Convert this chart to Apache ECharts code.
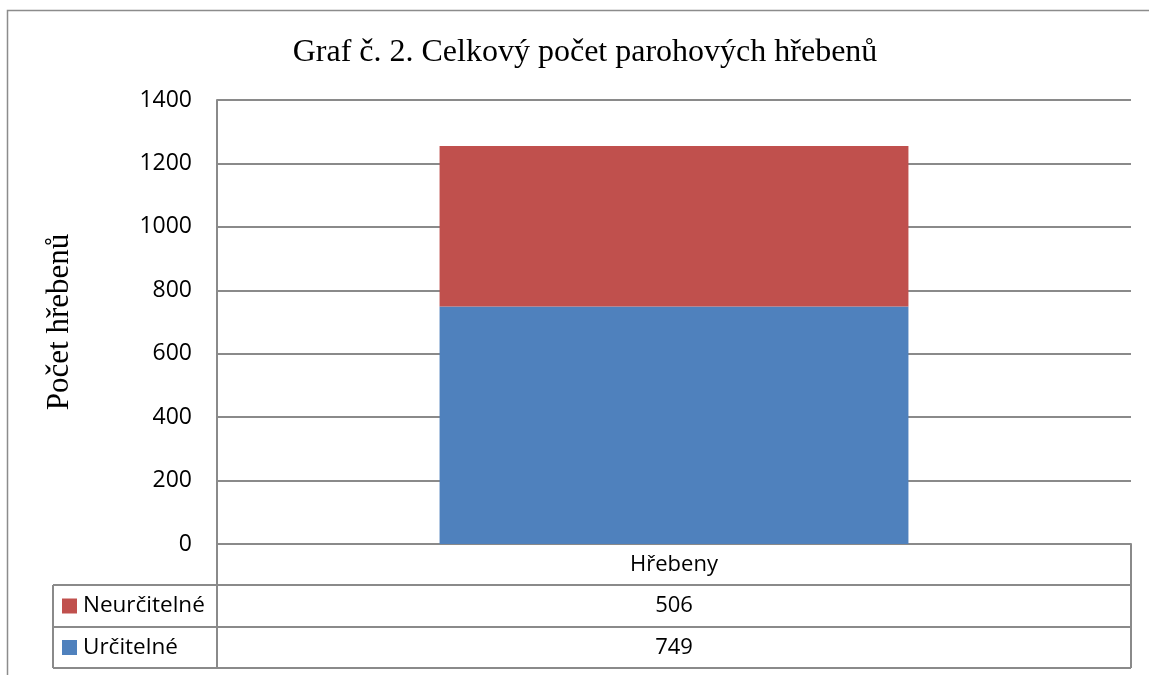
<!DOCTYPE html>
<html>
<head>
<meta charset="utf-8">
<title>Graf č. 2</title>
<script src="https://cdn.jsdelivr.net/npm/echarts@6/dist/echarts.min.js"></script>
<style>
  html, body { margin: 0; padding: 0; background: #fff; }
  #chart { width: 1149px; height: 675px; }
</style>
</head>
<body>
<div id="chart"></div>
<script>
// data
const categories = ['Hřebeny']
const urcitelne = [749]
const neurcitelne = [506]
const seriesNames = ['Určitelné', 'Neurčitelné']
const seriesColors = ['#4F81BD', '#C0504D']

const titleText = 'Graf č. 2. Celkový počet parohových hřebenů'
const yName = 'Počet hřebenů'

// layout
const plot = { left: 217, right: 1131, top: 100, bottom: 544 }
const table = { left: 53, row1: 585, row2: 627, row3: 668 }
const lineColor = '#8a8a8a'
const serif = '"Liberation Serif", "Times New Roman", serif'
const sans = '"Open Sans", "Liberation Sans", sans-serif'

const chart = echarts.init(document.getElementById('chart'))

// data table (rows in reference order: top red, bottom blue)
const tableRows = [
  { name: seriesNames[1], color: seriesColors[1], values: neurcitelne, top: table.row1, bottom: table.row2 },
  { name: seriesNames[0], color: seriesColors[0], values: urcitelne, top: table.row2, bottom: table.row3 }
]

function hLine(x1, x2, y) {
  return { type: 'line', silent: true, shape: { x1, y1: y, x2, y2: y }, style: { stroke: lineColor, lineWidth: 2 } }
}
function vLine(x, y1, y2) {
  return { type: 'line', silent: true, shape: { x1: x, y1, x2: x, y2 }, style: { stroke: lineColor, lineWidth: 2 } }
}

const graphics = [
  // outer chart frame
  { type: 'rect', silent: true, shape: { x: 7.5, y: 10.5, width: 1200, height: 700 }, style: { fill: 'none', stroke: '#8c8c8c', lineWidth: 1.5 } },
  hLine(table.left, plot.right, table.row1),
  hLine(table.left, plot.right, table.row2),
  hLine(table.left, plot.right, table.row3),
  vLine(table.left, table.row1, table.row3),
  vLine(plot.left, plot.bottom, table.row3),
  vLine(plot.right, plot.bottom, table.row3)
]

const colCenter = (plot.left + plot.right) / 2
tableRows.forEach(row => {
  const mid = (row.top + row.bottom) / 2
  graphics.push({
    type: 'rect', silent: true,
    shape: { x: 62, y: mid - 7.5, width: 15, height: 15 },
    style: { fill: row.color }
  })
  graphics.push({
    type: 'text', silent: true,
    x: 83, y: mid,
    style: { text: row.name, font: '22.5px ' + sans, fill: '#000', verticalAlign: 'middle', align: 'left' }
  })
  row.values.forEach(v => {
    graphics.push({
      type: 'text', silent: true,
      x: colCenter, y: mid,
      style: { text: String(v), font: '22px ' + sans, fill: '#000', verticalAlign: 'middle', align: 'center' }
    })
  })
})

const option = {
  animation: false,
  backgroundColor: '#fff',
  title: {
    text: titleText,
    left: 580,
    top: 32,
    textAlign: 'center',
    textStyle: { fontFamily: serif, fontSize: 32, fontWeight: 'normal', color: '#000' }
  },
  grid: {
    left: plot.left,
    right: 1149 - plot.right,
    top: plot.top,
    bottom: 675 - plot.bottom
  },
  xAxis: {
    type: 'category',
    data: categories,
    axisLine: { lineStyle: { color: lineColor, width: 2 } },
    axisTick: { show: false },
    axisLabel: { margin: 10, fontFamily: sans, fontSize: 22, color: '#000' }
  },
  yAxis: {
    type: 'value',
    min: 0,
    max: 1400,
    interval: 200,
    name: yName,
    nameLocation: 'middle',
    nameGap: 142,
    nameTextStyle: { fontFamily: serif, fontSize: 31, color: '#000' },
    axisLine: { show: true, lineStyle: { color: lineColor, width: 2 } },
    axisTick: { show: false },
    axisLabel: { margin: 25, fontFamily: sans, fontSize: 23, color: '#000', formatter: v => String(v) },
    splitLine: { lineStyle: { color: lineColor, width: 2 } }
  },
  series: [
    {
      name: seriesNames[0],
      type: 'bar',
      stack: 'total',
      data: urcitelne,
      barWidth: '51.3%',
      itemStyle: { color: seriesColors[0] }
    },
    {
      name: seriesNames[1],
      type: 'bar',
      stack: 'total',
      data: neurcitelne,
      barWidth: '51.3%',
      itemStyle: { color: seriesColors[1] }
    }
  ],
  graphic: graphics
}

chart.setOption(option)
</script>
</body>
</html>
